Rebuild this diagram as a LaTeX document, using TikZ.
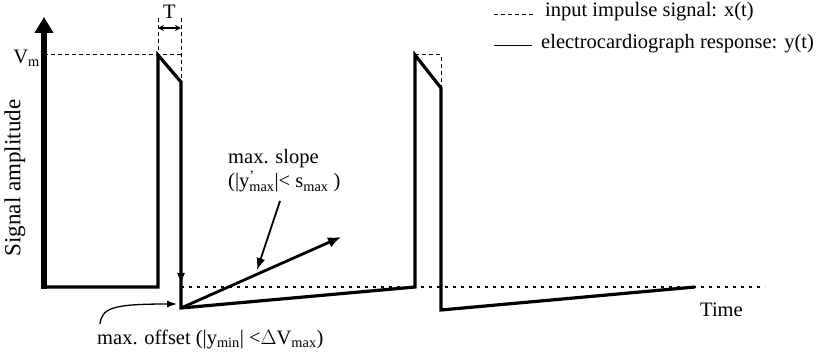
\documentclass[tikz,border=0pt]{standalone}
\usepackage{fontspec}
\setmainfont{Liberation Serif}
\usetikzlibrary{arrows.meta}
\begin{document}
\begin{tikzpicture}[x=1pt,y=-1pt,
  sig/.style={line width=3.2pt, line join=miter},
  inp/.style={line width=1pt, dash pattern=on 4pt off 3pt},
  base/.style={line width=1.4pt, dash pattern=on 3pt off 5pt},
  lbl/.style={font=\fontsize{20.5}{24}\selectfont, inner sep=0pt}]
\useasboundingbox (0,0) rectangle (828,358);
% key points
\coordinate (o) at (44,287);
\coordinate (top) at (44,17);
\coordinate (p1a) at (158,287);
\coordinate (p1b) at (158,55);
\coordinate (p1c) at (181,82);
\coordinate (p1d) at (181,308);
\coordinate (p1e) at (415,287);
\coordinate (p2b) at (415,55);
\coordinate (p2c) at (441,88);
\coordinate (p2d) at (441,310);
\coordinate (p2e) at (695,287);
\coordinate (bl0) at (181,287);
\coordinate (bl1) at (765,287);
\coordinate (vm) at (44,55);
\coordinate (t1) at (158,18);
\coordinate (t2) at (181,18);
\coordinate (x1c) at (181,55);
\coordinate (x2c) at (441,55);
% baseline dotted
\draw[base] (bl0) -- (bl1);
% input signal dashed
\draw[inp] (vm) -- (x1c);
\draw[inp] (t1) -- (p1b);
\draw[inp] (t2) -- (p1c);
\draw[inp] (p2b) -- (x2c) -- (p2c);
% T arrow
\coordinate (ta) at (158,28);
\coordinate (tb) at (181,28);
\draw[line width=1.1pt, {Stealth[length=6pt,width=6pt]}-{Stealth[length=6pt,width=6pt]}] (ta) -- (tb);
\node[lbl, anchor=base] (T) at (169.5,19) {T};
% axis
\draw[line width=5.5pt, -{Triangle[length=16pt,width=18pt]}] (44,289.5) -- (top);
\node[lbl, anchor=east] (Vm) at (40,58) {V\textsubscript{m}};
% response signal
\draw[sig] (o) -- (p1a) -- (p1b) -- (p1c) -- (p1d) -- (p1e) -- (p2b) -- (p2c) -- (p2d) -- (p2e);
\coordinate (dn1) at (181,250);
\coordinate (dn2) at (181,284);
\draw[line width=1pt, -{Latex[length=11pt,width=8pt]}] (dn1) -- (dn2);
% slope arrow
\coordinate (sl) at (341,237);
\draw[line width=2.8pt, -{Latex[length=13pt,width=11pt]}] (p1d) -- (sl);
% slope label
\node[lbl, align=left, anchor=west] (slope) at (228,171) {max. slope\\(|y\rlap{\textsuperscript{’}}\textsubscript{max}|< s\textsubscript{max} )};
\coordinate (sp1) at (280,201);
\coordinate (sp2) at (257,270);
\draw[line width=1.8pt, -{Latex[length=12pt,width=9pt]}] (sp1) -- (sp2);
% offset label
\node[lbl, anchor=west] (off) at (97,339) {max. offset (|y\textsubscript{min}| <$\Delta$V\textsubscript{max})};
\coordinate (oc) at (100,324);
\coordinate (oe) at (177,304);
\draw[line width=1.3pt, -{Latex[length=10pt,width=7pt]}] (oc) .. controls (102,308) and (112,304) .. (oe);
% axis labels
\node[lbl, font=\fontsize{23}{26}\selectfont, rotate=90] (ylab) at (15,178) {Signal amplitude};
\node[lbl, anchor=west] (time) at (700,310) {Time};
% legend
\coordinate (l1a) at (494,15);
\coordinate (l1b) at (535,15);
\coordinate (l2a) at (494,46);
\coordinate (l2b) at (532,46);
\draw[line width=1pt, dash pattern=on 4pt off 3pt] (l1a) -- (l1b);
\draw[line width=1pt] (l2a) -- (l2b);
\node[lbl, anchor=west] (leg1) at (545,12) {input impulse signal: x(t)};
\node[lbl, anchor=west] (leg2) at (541,44) {electrocardiograph response: y(t)};
\end{tikzpicture}
\end{document}
